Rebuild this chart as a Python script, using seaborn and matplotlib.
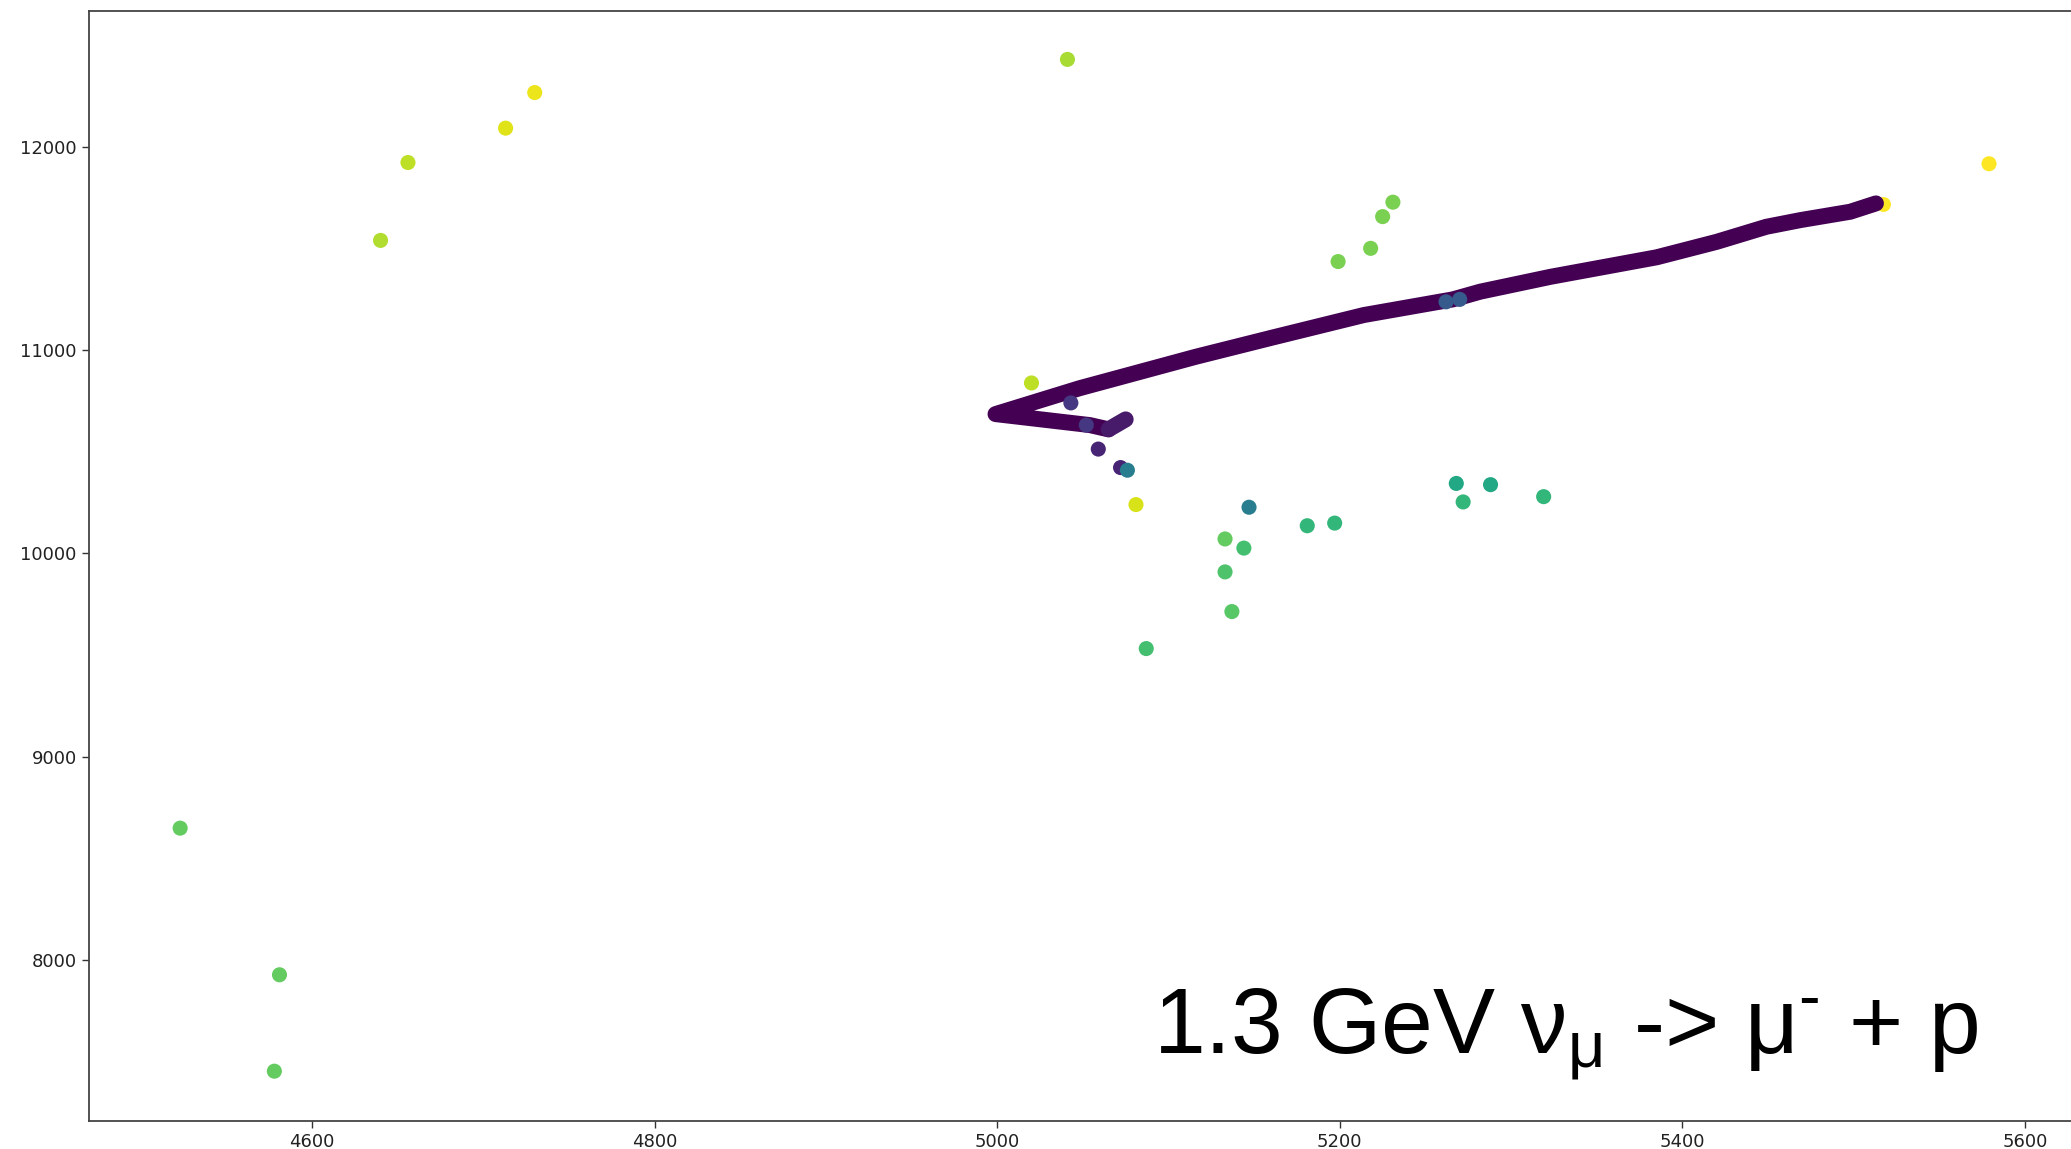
import matplotlib
matplotlib.use("Agg")
import matplotlib.pyplot as plt
import seaborn as sns
import pandas as pd

# stray hits: x, y, colour value (viridis 0..1)
hit_x = [4523, 4581, 4578, 4640, 4656, 4713, 4730, 5041, 5579, 5020,
         5199, 5218, 5225, 5231, 5081, 5059, 5072, 5076, 5147, 5133,
         5144, 5133, 5137, 5087, 5181, 5197, 5268, 5272, 5288, 5319,
         5262, 5270, 5043, 5052]
hit_y = [8649, 7928, 7454, 11539, 11922, 12091, 12266, 12429, 11916, 10838,
         11435, 11500, 11656, 11727, 10240, 10513, 10422, 10409, 10227, 10071,
         10026, 9909, 9714, 9532, 10136, 10149, 10344, 10253, 10338, 10279,
         11237, 11249, 10740, 10631]
hit_val = [0.76, 0.76, 0.76, 0.88, 0.90, 0.95, 0.97, 0.87, 1.00, 0.90,
           0.80, 0.80, 0.80, 0.80, 0.94, 0.10, 0.10, 0.42, 0.42, 0.76,
           0.70, 0.72, 0.74, 0.70, 0.66, 0.66, 0.60, 0.66, 0.60, 0.66,
           0.28, 0.28, 0.16, 0.16]

# muon track vertices (dense overlapping hits)
track_x = [5513, 5498, 5469, 5449, 5420, 5385, 5323, 5282, 5266, 5214,
           5161, 5116, 5048, 4999, 5054, 5065]
track_y = [11721, 11680, 11639, 11606, 11532, 11456, 11360, 11287, 11249, 11172,
           11062, 10967, 10812, 10685, 10631, 10610]
hook_x = [5065, 5075]
hook_y = [10610, 10659]

end_x = [5517]
end_y = [11718]

hits = pd.DataFrame({"x": hit_x, "y": hit_y, "val": hit_val})

sns.set_theme(style="ticks")

fig = plt.figure(figsize=(20.71, 11.49), dpi=100)
ax = fig.add_axes([88.5 / 2071, 28 / 1149, (2081 - 88.5) / 2071, (1121 - 10.6) / 1149])

ax.scatter(end_x, end_y, s=115, color="#fde725", linewidth=0, zorder=1)
sns.lineplot(x=track_x, y=track_y, sort=False, color="#440154", linewidth=11.5,
             solid_capstyle="round", solid_joinstyle="round", ax=ax, zorder=2)
sns.lineplot(x=hook_x, y=hook_y, sort=False, color="#471a6a", linewidth=11.5,
             solid_capstyle="round", ax=ax, zorder=2)
sns.scatterplot(data=hits, x="x", y="y", hue="val", palette="viridis",
                hue_norm=(0, 1), s=118, linewidth=0, legend=False, ax=ax, zorder=3)

ax.set_xlim(4469.5, 5632.7)
ax.set_ylim(7209, 12669)
ax.set_xticks([4600, 4800, 5000, 5200, 5400, 5600])
ax.set_yticks([8000, 9000, 10000, 11000, 12000])
ax.set_xlabel("")
ax.set_ylabel("")
ax.tick_params(labelsize=13, length=5, width=1, color="#333333", labelcolor="#222222")
for sp in ax.spines.values():
    sp.set_color("#444444")
    sp.set_linewidth(1.3)
    sp.set_visible(True)

plt.rcParams["mathtext.fontset"] = "custom"
plt.rcParams["mathtext.rm"] = "Liberation Sans"
plt.rcParams["mathtext.it"] = "Liberation Sans"
fig.text(1153 / 2071, 1 - 1054 / 1149,
         r"1.3 GeV $\mathrm{\nu_{\mu}}$ -> $\mathrm{\mu^{\text{-}}}$ + p",
         fontsize=67, family="Liberation Sans", color="black", va="baseline")

fig.savefig("out.png", dpi=100)
